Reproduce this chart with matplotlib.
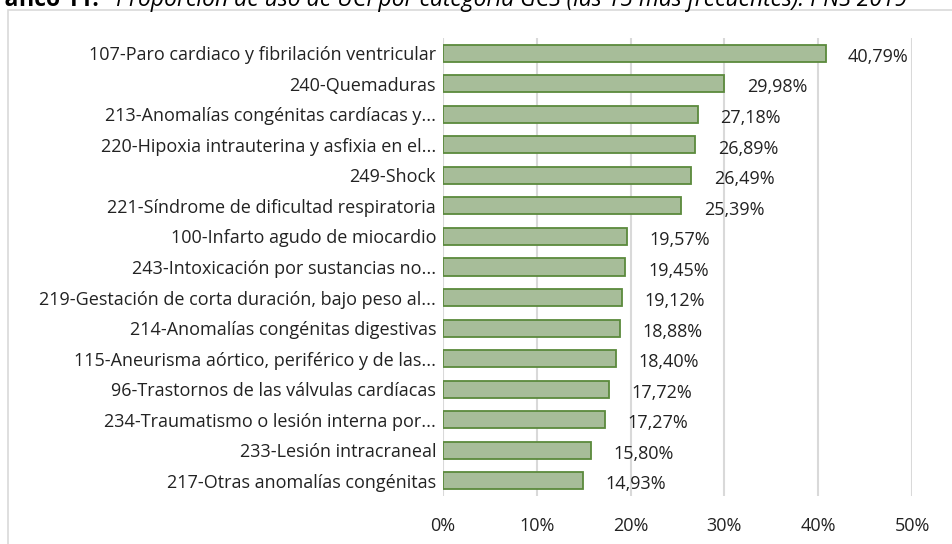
import matplotlib
matplotlib.use('Agg')
import matplotlib.pyplot as plt
from matplotlib.patches import Rectangle
from matplotlib.ticker import FuncFormatter

plt.rcParams['font.family'] = ['Open Sans', 'DejaVu Sans']

categories = [
    '107-Paro cardiaco y fibrilación ventricular',
    '240-Quemaduras',
    '213-Anomalías congénitas cardíacas y...',
    '220-Hipoxia intrauterina y asfixia en el...',
    '249-Shock',
    '221-Síndrome de dificultad respiratoria',
    '100-Infarto agudo de miocardio',
    '243-Intoxicación por sustancias no...',
    '219-Gestación de corta duración, bajo peso al...',
    '214-Anomalías congénitas digestivas',
    '115-Aneurisma aórtico, periférico y de las...',
    '96-Trastornos de las válvulas cardíacas',
    '234-Traumatismo o lesión interna por...',
    '233-Lesión intracraneal',
    '217-Otras anomalías congénitas',
]
values = [40.79, 29.98, 27.18, 26.89, 26.49, 25.39, 19.57, 19.45,
          19.12, 18.88, 18.40, 17.72, 17.27, 15.80, 14.93]
xticks = [0, 10, 20, 30, 40, 50]

fig = plt.figure(figsize=(9.52, 5.44), dpi=100)

# chart frame (cut by the picture edges)
fig.patches.append(Rectangle((8/952, -0.1), 1.2, 1.1 - 10/544, transform=fig.transFigure,
                             fill=False, edgecolor='#d9d9d9', linewidth=1.2))

# caption, only the lower part is visible
fig.text(-22/952, 1 - 6/544, 'Gráfico 11.', fontsize=16.5, fontweight='bold', va='baseline')
fig.text(116/952, 1 - 6/544,
         'Proporción de uso de UCI por categoría GCS (las 15 más frecuentes). PNS 2019',
         fontsize=16.5, style='italic', va='baseline')

ax = fig.add_axes([443/952, 1 - 496/544, (912 - 443)/952, (496 - 38)/544])
y = list(range(len(categories)))
ax.barh(y, values, height=0.56, color='#a7bd99', edgecolor='#5b8a3c', linewidth=1.3, zorder=3)
for yi, v in zip(y, values):
    ax.text(v + 2.4, yi + 0.12, ('%.2f%%' % v).replace('.', ','), va='center', ha='left',
            fontsize=13, color='#222222')

ax.set_xlim(0, 50)
ax.set_ylim(len(categories) - 0.5, -0.5)
ax.set_xticks(xticks)
ax.xaxis.set_major_formatter(FuncFormatter(lambda v, p: '%d%%' % v))
ax.set_yticks(y)
ax.set_yticklabels(categories)
ax.grid(axis='x', color='#d9d9d9', linewidth=1.5, zorder=0)
for s in ax.spines.values():
    s.set_visible(False)
ax.tick_params(axis='x', length=0, pad=15, labelsize=13, colors='#222222')
ax.tick_params(axis='y', length=0, pad=5, labelsize=13, colors='#222222')

fig.savefig('out.png', dpi=100)
